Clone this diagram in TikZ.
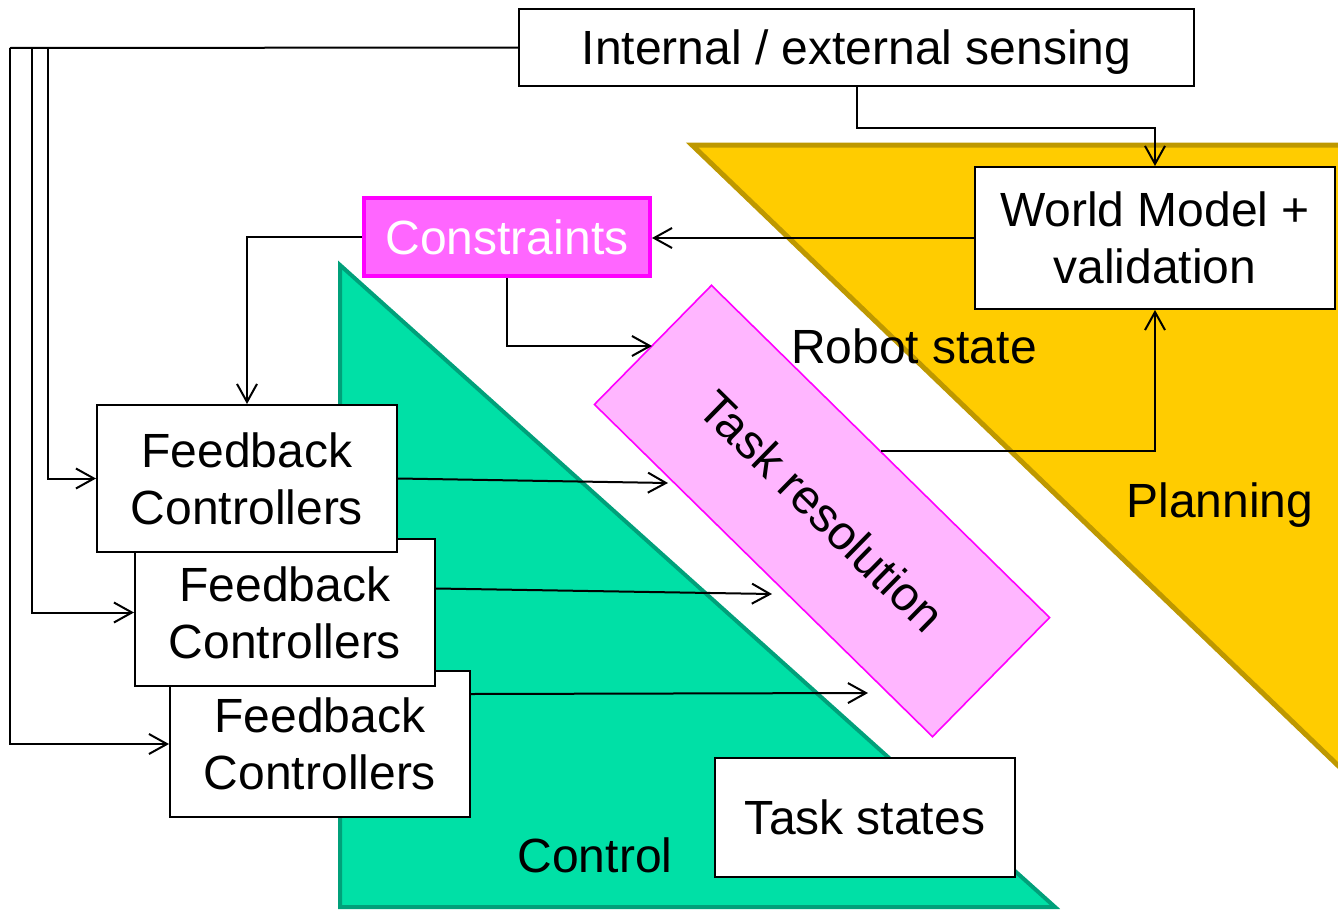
\documentclass[tikz,border=0pt]{standalone}
\usepackage{fontspec}
\setmainfont{Liberation Sans}
\usetikzlibrary{arrows.meta,calc}
\definecolor{planfill}{RGB}{255,204,0}
\definecolor{planline}{RGB}{190,152,0}
\definecolor{ctrlfill}{RGB}{0,224,166}
\definecolor{ctrlline}{RGB}{0,160,122}
\definecolor{consfill}{RGB}{255,102,255}
\definecolor{consline}{RGB}{255,0,255}
\definecolor{resfill}{RGB}{255,182,255}
\begin{document}
\begin{tikzpicture}[x=0.5pt,y=-0.5pt,
  lbl/.style={font=\fontsize{24}{28.5}\selectfont, align=center, inner sep=0pt},
  box/.style={lbl, draw=black, line width=1pt, fill=white},
  arr/.style={line width=1pt, -{Straight Barb[length=9pt,width=10pt,line width=1pt]}},
  conn/.style={line width=1pt}]
\useasboundingbox (0,0) rectangle (1338,910);
\clip (0,0) rectangle (1338,910);

% Planning region
\draw[fill=planfill, draw=planline, line width=2.5pt]
  (692,145) -- (1350,145) -- (1350,777) -- cycle;
% Control region
\draw[fill=ctrlfill, draw=ctrlline, line width=2pt]
  (340,265) -- (1055,907) -- (340,907) -- cycle;

% Task resolution block
\node[lbl, draw=consline, line width=0.8pt, fill=resfill, rotate=-44.5,
      minimum width=237pt, minimum height=83.5pt] (tr) at (822,511) {Task resolution};

% Boxes
\node[box, text depth=0pt, minimum width=337.5pt, minimum height=38.5pt] (sens) at (856.5,47.5) {Internal / external sensing};
\node[box, minimum width=180pt, minimum height=71pt] (wm) at (1155,238) {World Model +\\validation};
\node[lbl, draw=consline, line width=2pt, fill=consfill, text=white,
      minimum width=143pt, minimum height=39pt] (cons) at (507,237) {Constraints};
\node[box, minimum width=150pt, minimum height=73pt] (fc3) at (320,744) {Feedback\\Controllers};
\node[box, minimum width=150pt, minimum height=73.5pt] (fc2) at (285,612.5) {Feedback\\Controllers};
\node[box, minimum width=150pt, minimum height=73.5pt] (fc1) at (247,478.5) {Feedback\\Controllers};
\node[box, minimum width=150pt, minimum height=59.5pt] (ts) at (865,817.5) {Task states};

% Free labels
\node[lbl] (rs) at (914,346) {Robot state};
\node[lbl] (pl) at (1220,505) {Planning};
\node[lbl] (ct) at (595,855) {Control};

% Arrow ends at the task resolution block
\coordinate (inC) at (652,346);
\coordinate (in1) at (668,483);
\coordinate (in2) at (772,594);
\coordinate (in3) at (868,693);

% Sensing to the controllers
\draw[conn] (sens.west) -- (10,48);
\draw[arr] (10,48) |- (fc3.west);
\draw[arr] (32,48) |- (fc2.west);
\draw[arr] (48,48) |- (fc1.west);

% Sensing to the world model
\draw[arr] (sens.south) -- ++(0,41) -| (wm.north);

% World model to constraints
\draw[arr] (wm.west) -- (wm.west -| cons.east);

% Constraints to controllers and task resolution
\draw[arr] (cons.west) -| (fc1.north);
\draw[arr] (cons.south) |- (inC);

% Controllers to task resolution
\draw[arr] (fc1.east) -- (in1);
\draw[arr] ([yshift=12pt]fc2.east) -- (in2);
\draw[arr] ([yshift=25pt]fc3.east) -- (in3);

% Task resolution to world model
\draw[arr] (tr.north) -| (wm.south);
\end{tikzpicture}
\end{document}
